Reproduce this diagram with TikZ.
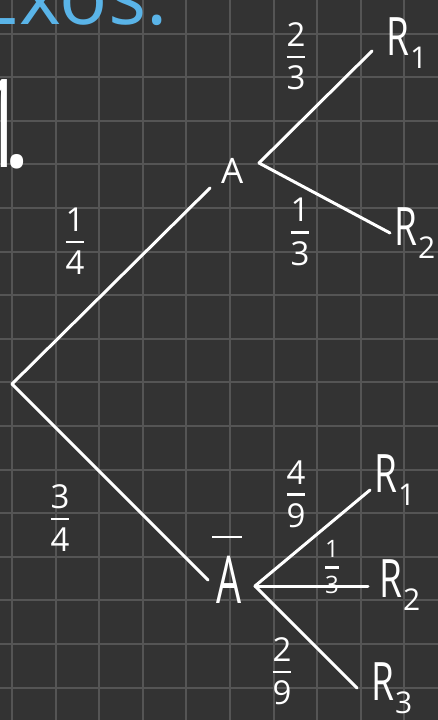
\documentclass[tikz,border=0pt]{standalone}
\usepackage{amsmath}
\usepackage{graphicx}
\usepackage{fontspec}
\setmainfont{Open Sans}
\usetikzlibrary{calc}

\definecolor{board}{HTML}{333333}
\definecolor{gridgray}{HTML}{555555}
\definecolor{chalkblue}{HTML}{5AB4E8}

% fraction written on the board
\newcommand{\frc}[2]{$\genfrac{}{}{2.5pt}{0}{\text{#1}}{\text{#2}}$}
% R with a low index
\newcommand{\Rsub}[1]{\scalebox{0.7}[1]{R}\kern1pt\raisebox{-13pt}{\fontsize{30}{30}\selectfont #1}}

\begin{document}
\begin{tikzpicture}[
  x=1pt, y=-1pt,
  branch/.style={white, line width=3pt, line cap=round},
  gridline/.style={gridgray, line width=2pt},
  lbl/.style={text=white, inner sep=0pt},
  fraclbl/.style={lbl, font=\fontsize{33}{40}\selectfont},
  rlbl/.style={lbl, anchor=base west, font=\fontsize{53}{60}\selectfont},
]

\useasboundingbox (0,0) rectangle (438,720);
\clip (0,0) rectangle (438,720);
\fill[board] (0,0) rectangle (438,720);

% squared paper
\foreach \i in {0,...,9}
  \draw[gridline] ({12+43.6*\i},0) -- ({12+43.6*\i},720);
\foreach \j in {0,...,15}
  \draw[gridline] (0,{33.5+43.6*\j}) -- (438,{33.5+43.6*\j});

% heading (cut at the top) and number
\node[text=chalkblue, inner sep=0pt, anchor=base west,
  font=\fontsize{80}{90}\selectfont] (exos) at (-25,24) {Exos:};
\node[lbl, anchor=base west, font=\fontsize{110}{120}\selectfont]
  (num) at (-20,167) {\scalebox{0.7}[1.12]{1}\kern-22pt.};

% forks of the tree
\coordinate (root)  at (12,384);
\coordinate (Ain)   at (210,188);   % end of the branch to A
\coordinate (Afork) at (259,163);
\coordinate (Bin)   at (208,580);   % end of the branch to A bar
\coordinate (Bfork) at (255,586);

% leaves
\coordinate (AR1) at (372,51);
\coordinate (AR2) at (390,233);
\coordinate (BR1) at (370,490);
\coordinate (BR2) at (368,586);
\coordinate (BR3) at (357,688);

% first level
\draw[branch] (root) -- (Ain);
\draw[branch] (root) -- (Bin);

% after A
\draw[branch] (Afork) -- (AR1);
\draw[branch] (Afork) -- (AR2);

% after A bar
\draw[branch] (Bfork) -- (BR1);
\draw[branch] (Bfork) -- (BR2);
\draw[branch] (Bfork) -- (BR3);

% events
\node[lbl, anchor=base west, font=\fontsize{35}{40}\selectfont]
  (A) at (221,183) {A};
\node[lbl, anchor=base west, font=\fontsize{66}{70}\selectfont]
  (Abar) at (216,603)
  {\makebox[0pt][l]{\hspace{-4pt}\raisebox{65pt}{\rule{30pt}{2.5pt}}}\scalebox{0.6}[1]{A}};

\node[rlbl] (R1a) at (386,55)  {\Rsub{1}};
\node[rlbl] (R2a) at (394,245) {\Rsub{2}};
\node[rlbl] (R1b) at (374,492) {\Rsub{1}};
\node[rlbl] (R2b) at (379,597) {\Rsub{2}};
\node[rlbl] (R3b) at (371,700) {\Rsub{3}};

% probabilities
\node[fraclbl] (pA)   at (75,241)  {\frc{1}{4}};
\node[fraclbl] (pAb)  at (60,518)  {\frc{3}{4}};
\node[fraclbl] (pAR1) at (296,56)  {\frc{2}{3}};
\node[fraclbl] (pAR2) at (300,232) {\frc{1}{3}};
\node[fraclbl] (pBR1) at (296,494) {\frc{4}{9}};
\node[fraclbl, font=\fontsize{24}{30}\selectfont]
  (pBR2) at (332,567) {\frc{1}{3}};
\node[fraclbl] (pBR3) at (282,671) {\frc{2}{9}};

\end{tikzpicture}
\end{document}
